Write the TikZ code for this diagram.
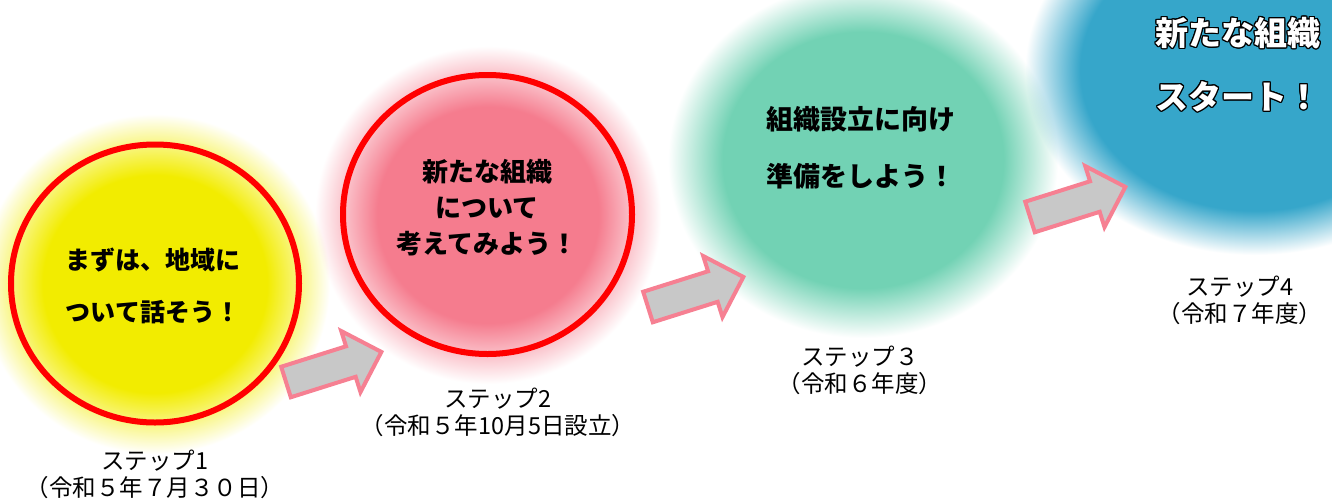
\documentclass[tikz,border=0pt]{standalone}
\usepackage{fontspec}
\newfontfamily\jp{Noto Sans CJK JP}
\usepackage{contour}
\contourlength{1.1pt}
\definecolor{cY}{RGB}{242,236,0}
\definecolor{cP}{RGB}{245,124,142}
\definecolor{cG}{RGB}{114,210,180}
\definecolor{cB}{RGB}{54,166,202}
\definecolor{arrowpink}{RGB}{246,128,146}
\definecolor{arrowgray}{RGB}{200,200,200}
\definecolor{ringred}{RGB}{255,0,0}
\pgfdeclareradialshading{glowY}{\pgfpointorigin}{color(0bp)=(cY); color(16bp)=(cY); color(25bp)=(white); color(50bp)=(white)}
\pgfdeclareradialshading{glowP}{\pgfpointorigin}{color(0bp)=(cP); color(16bp)=(cP); color(25bp)=(white); color(50bp)=(white)}
\pgfdeclareradialshading{glowG}{\pgfpointorigin}{color(0bp)=(cG); color(18bp)=(cG); color(25bp)=(white); color(50bp)=(white)}
\pgfdeclareradialshading{glowB}{\pgfpointorigin}{color(0bp)=(cB); color(19bp)=(cB); color(25bp)=(white); color(50bp)=(white)}
\tikzset{
  blockarrow/.style={fill=arrowgray, draw=arrowpink, line width=4pt, line join=miter},
  ring/.style={draw=ringred, line width=6pt},
  circtext/.style={align=center, inner sep=0pt, font=\jp\bfseries},
  steplabel/.style={align=center, inner sep=0pt, font=\jp\fontsize{23.5}{27}\selectfont},
}
\begin{document}
\begin{tikzpicture}[x=1pt,y=-1pt]
\useasboundingbox (0,0) rectangle (1332,498);
\fill[white] (0,0) rectangle (1332,498);
% glows
\begin{scope}[blend mode=multiply]
\shade[shading=glowY] (155,284) ellipse [x radius=175, y radius=170];
\shade[shading=glowP] (488,215) ellipse [x radius=173, y radius=169];
\shade[shading=glowG] (863,160) ellipse [x radius=195, y radius=178];
\shade[shading=glowB] (1255,70) ellipse [x radius=230, y radius=185];
\end{scope}
% rings
\draw[ring] (155,283.5) ellipse [x radius=144, y radius=139];
\draw[ring] (487.5,214.5) ellipse [x radius=144.5, y radius=139.5];
% arrows
\draw[blockarrow, shift={(286,382)}, rotate=17.5] (0,16) -- (68,16) -- (68,32) -- (100,0) -- (68,-32) -- (68,-16) -- (0,-16) -- cycle;
\draw[blockarrow, shift={(648,307)}, rotate=17.5] (0,16) -- (68,16) -- (68,32) -- (100,0) -- (68,-32) -- (68,-16) -- (0,-16) -- cycle;
\draw[blockarrow, shift={(1030,217)}, rotate=17.5] (0,16) -- (68,16) -- (68,32) -- (100,0) -- (68,-32) -- (68,-16) -- (0,-16) -- cycle;
% circle texts
\node[circtext, font=\jp\bfseries\fontsize{25}{52}\selectfont] (t1) at (153,286) {まずは、地域に\\ついて話そう！};
\node[circtext, font=\jp\bfseries\fontsize{26}{36}\selectfont] (t2) at (487,208) {新たな組織\\について\\考えてみよう！};
\node[circtext, font=\jp\bfseries\fontsize{27}{57}\selectfont] (t3) at (861,148) {組織設立に向け\\準備をしよう！};
\node[circtext, text=white, font=\jp\bfseries\fontsize{33}{64}\selectfont] (t4) at (1238,65) {\contour{black}{新たな組織}\\\contour{black}{スタート！}};
% labels
\node[steplabel] (l1) at (155,474) {ステップ1\\（令和５年７月３０日）};
\node[steplabel] (l2) at (498,412) {ステップ2\\（令和５年10月5日設立）};
\node[steplabel] (l3) at (860,370) {ステップ３\\（令和６年度）};
\node[steplabel] (l4) at (1240,300) {ステップ4\\（令和７年度）};
\end{tikzpicture}
\end{document}
